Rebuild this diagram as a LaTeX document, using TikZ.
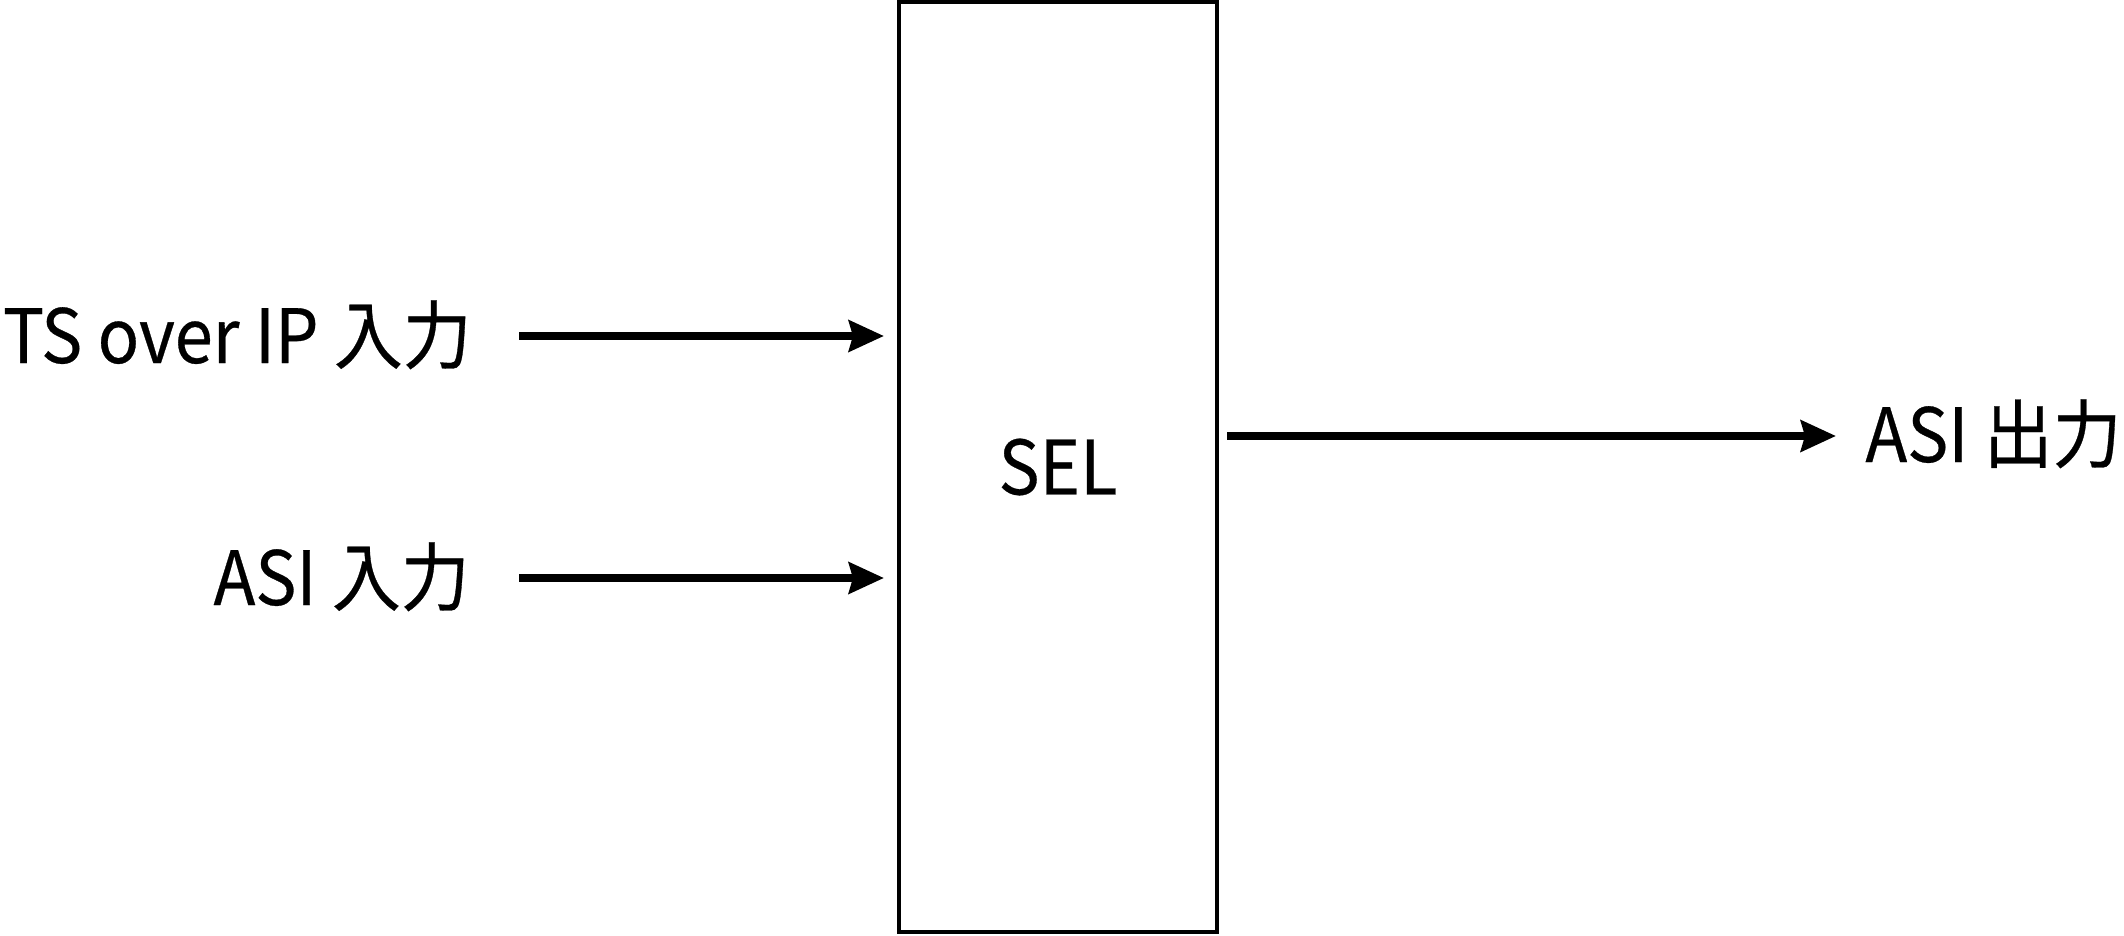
\documentclass[tikz,border=0pt]{standalone}
\usepackage{fontspec}
\setmainfont{Noto Sans CJK JP}[FakeStretch=0.92, FakeBold=0.4]
\usetikzlibrary{arrows.meta}
\tikzset{
  x=0.5pt, y=-0.5pt,
  lbl/.style={inner sep=0pt, font=\fontsize{37.4}{42}\selectfont},
  selbox/.style={draw, line width=2pt, minimum width=159pt, minimum height=465pt, inner sep=0pt, font=\fontsize{37.4}{42}\selectfont},
  conn/.style={line width=4pt, -{Stealth[length=17.5pt,width=15.5pt,inset=2pt]}},
}
\begin{document}
\begin{tikzpicture}
\useasboundingbox (0,0) rectangle (2124,936);
\node[selbox] (sel) at (1058,467) {SEL};
\node[lbl, anchor=base east] (in1) at (472,363) {TS over IP 入力};
\node[lbl, anchor=base east] (in2) at (470,605) {ASI 入力};
\node[lbl, anchor=base west] (out) at (1865,462) {ASI 出力};
\coordinate (a1) at (519,336);
\coordinate (a2) at (519,578);
\coordinate (a3) at (1836,436);
\draw[conn, shorten >=6.5pt] (a1) -- (a1 -| sel.west);
\draw[conn, shorten >=6.5pt] (a2) -- (a2 -| sel.west);
\draw[conn, shorten <=4pt] (a3 -| sel.east) -- (a3);
\end{tikzpicture}
\end{document}
